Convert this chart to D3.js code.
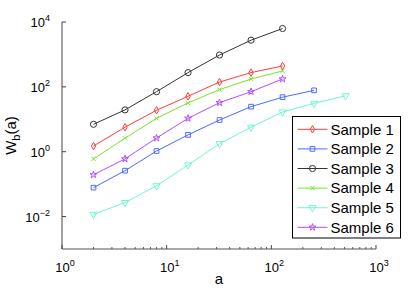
<!DOCTYPE html>
<html><head><meta charset="utf-8">
<script src="https://cdn.jsdelivr.net/npm/d3@7"></script>
<style>body{margin:0;background:#fff}svg{display:block}text{font-family:"Liberation Sans",Arial,sans-serif;fill:#000}</style>
</head><body><svg id="c" width="415" height="292"></svg>
<script>
const seriesNames = ["Sample 1","Sample 2","Sample 3","Sample 4","Sample 5","Sample 6"];
const xShort = [2,4,8,16,32,64,128];
const xMid = [2,4,8,16,32,64,128,256];
const xLong = [2,4,8,16,32,64,128,256,512];
const sample1 = [1.5,5.7,19,51,141,275,442];
const sample2 = [0.078,0.26,1.05,3.3,9.5,24.5,48,78];
const sample3 = [7,19.5,71,275,960,2750,6300];
const sample4 = [0.6,2.6,10.7,32,82,175,310];
const sample5 = [0.0117,0.027,0.089,0.39,1.77,5.7,16.8,31,53];
const sample6 = [0.195,0.6,2.65,10.7,32.5,71,175];
const yTicks = [1e-2,1e0,1e2,1e4];
const yTickExp = ["\u22122","0","2","4"];
const xTicks = [1,10,100,1000];
const xTickExp = ["0","1","2","3"];

const svg = d3.select("#c");
const x = d3.scaleLog().domain([1,1000]).range([62,376]);
const y = d3.scaleLog().domain([1e-3,1e4]).range([249,22]);

const symTimes = d3.symbolTimes || d3.symbolX;
const series = [
  {name:seriesNames[0], xs:xShort, ys:sample1, color:"#ff3b3b", sym:d3.symbolDiamond, size:16, rot:0},
  {name:seriesNames[1], xs:xMid, ys:sample2, color:"#4a6cff", sym:d3.symbolSquare, size:22, rot:0},
  {name:seriesNames[2], xs:xShort, ys:sample3, color:"#333333", sym:d3.symbolCircle, size:30, rot:0},
  {name:seriesNames[3], xs:xShort, ys:sample4, color:"#77e62a", sym:symTimes||d3.symbolCross, size:14, rot:symTimes?0:45},
  {name:seriesNames[4], xs:xLong, ys:sample5, color:"#6ff5d8", sym:d3.symbolTriangle, size:22, rot:180},
  {name:seriesNames[5], xs:xShort, ys:sample6, color:"#b34dff", sym:d3.symbolStar, size:15, rot:0}
];

// axes lines
svg.append("line").attr("x1",62).attr("x2",62).attr("y1",y(1e4)).attr("y2",y(1e-3)).attr("stroke","#444");
svg.append("line").attr("x1",62).attr("x2",x(1000)).attr("y1",249).attr("y2",249).attr("stroke","#555");

// y ticks
yTicks.forEach((t,i)=>{
  const yy = y(t);
  svg.append("line").attr("x1",62).attr("x2",66).attr("y1",yy).attr("y2",yy).attr("stroke","#444");
  const tx = svg.append("text").attr("x",50).attr("y",yy+5).attr("text-anchor","end").style("font-size","13px");
  tx.append("tspan").text("10");
  tx.append("tspan").attr("dy",-6).style("font-size","9px").text(yTickExp[i]);
});
// x ticks
xTicks.forEach((t,i)=>{
  const xx = x(t);
  svg.append("line").attr("x1",xx).attr("x2",xx).attr("y1",249).attr("y2",245).attr("stroke","#444");
  const tx = svg.append("text").attr("x",xx+3).attr("y",272).attr("text-anchor","middle").style("font-size","13px");
  tx.append("tspan").text("10");
  tx.append("tspan").attr("dy",-6).style("font-size","9px").text(xTickExp[i]);
});
// minor x ticks
[1,10,100].forEach(d=>{
  for(let k=2;k<=9;k++){
    const xx = x(d*k);
    svg.append("line").attr("x1",xx).attr("x2",xx).attr("y1",249).attr("y2",247).attr("stroke","#555");
  }
});

// axis labels
svg.append("text").attr("x",219).attr("y",284).attr("text-anchor","middle").style("font-size","15px").text("a");
const yl = svg.append("text").attr("transform","translate(16,135.5) rotate(-90)").attr("text-anchor","middle").style("font-size","15px");
yl.append("tspan").text("W");
yl.append("tspan").attr("dy",4).style("font-size","11px").text("b");
yl.append("tspan").attr("dy",-4).text("(a)");

// series
const line = d3.line().x(d=>x(d[0])).y(d=>y(d[1]));
series.forEach(s=>{
  const pts = s.xs.map((v,i)=>[v,s.ys[i]]);
  const g = svg.append("g");
  g.append("path").attr("d",line(pts)).attr("fill","none").attr("stroke",s.color).attr("stroke-width",1);
  g.selectAll("path.m").data(pts).join("path").attr("class","m")
    .attr("d",d3.symbol().type(s.sym).size(s.size))
    .attr("transform",d=>`translate(${x(d[0])},${y(d[1])}) rotate(${s.rot})`)
    .attr("fill","none").attr("stroke",s.color).attr("stroke-width",1);
});

// legend
const lg = svg.append("g");
lg.append("rect").attr("x",292.5).attr("y",116.5).attr("width",108).attr("height",121.5).attr("fill","#fff").attr("stroke","#000");
series.forEach((s,i)=>{
  const yy = 129.3 + i*19.6;
  lg.append("line").attr("x1",297.5).attr("x2",327.5).attr("y1",yy).attr("y2",yy).attr("stroke",s.color);
  lg.append("path").attr("d",d3.symbol().type(s.sym).size(s.size))
    .attr("transform",`translate(312.5,${yy}) rotate(${s.rot})`).attr("fill","none").attr("stroke",s.color);
  lg.append("text").attr("x",330.5).attr("y",yy+5.3).style("font-size","15px").text(s.name);
});
</script></body></html>
